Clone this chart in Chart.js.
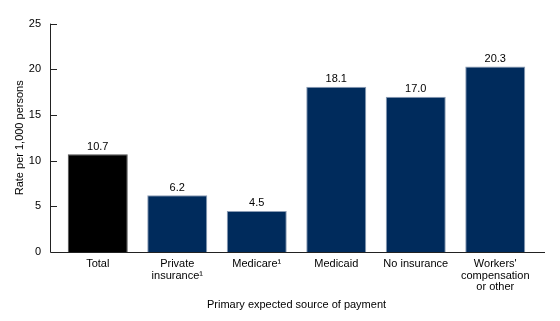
<!DOCTYPE html>
<html>
<head>
<meta charset="utf-8">
<script src="https://cdn.jsdelivr.net/npm/chart.js@4"></script>
<style>
  html, body { margin: 0; padding: 0; background: #fff; }
  #wrap { width: 560px; height: 321px; }
</style>
</head>
<body>
<div id="wrap"><canvas id="chart" width="560" height="321"></canvas></div>
<script>
const categories = [
    'Total',
    ['Private', 'insurance\u00B9'],
    'Medicare\u00B9',
    'Medicaid',
    'No insurance',
    ['Workers\'', 'compensation', 'or other']
];
const rates = [10.7, 6.2, 4.5, 18.1, 17.0, 20.3];
const barColors = ['#000000', '#002b5c', '#002b5c', '#002b5c', '#002b5c', '#002b5c'];
const borderColors = ['#4d4d4d', '#8c9db5', '#8c9db5', '#8c9db5', '#8c9db5', '#8c9db5'];
const yTicks = [0, 5, 10, 15, 20, 25];

const fontFamily = '"Liberation Sans", Arial, sans-serif';

// axis lines + inward tick marks, drawn from the scales
const axisLines = {
    id: 'axisLines',
    afterDraw(chart) {
        const ctx = chart.ctx;
        const y = chart.scales.y;
        const area = chart.chartArea;
        const x0 = area.left - 8;
        const base = y.getPixelForValue(0);
        ctx.save();
        ctx.strokeStyle = '#222';
        ctx.lineWidth = 1;
        ctx.beginPath();
        ctx.moveTo(x0 + 0.5, y.getPixelForValue(25));
        ctx.lineTo(x0 + 0.5, base + 0.5);
        ctx.lineTo(area.right + 10, base + 0.5);
        yTicks.forEach(v => {
            const py = Math.round(y.getPixelForValue(v)) + 0.5;
            if (v === 0) return;
            ctx.moveTo(x0, py);
            ctx.lineTo(x0 + 7, py);
        });
        ctx.stroke();
        ctx.restore();
    }
};

// value labels above bars
const valueLabels = {
    id: 'valueLabels',
    afterDatasetsDraw(chart) {
        const ctx = chart.ctx;
        const meta = chart.getDatasetMeta(0);
        ctx.save();
        ctx.font = '11px ' + fontFamily;
        ctx.fillStyle = '#000';
        ctx.textAlign = 'center';
        ctx.textBaseline = 'bottom';
        meta.data.forEach((bar, i) => {
            ctx.fillText(rates[i].toFixed(1), bar.x, bar.y - 2);
        });
        ctx.restore();
    }
};

new Chart(document.getElementById('chart').getContext('2d'), {
    type: 'bar',
    data: {
        labels: categories,
        datasets: [{
            data: rates,
            backgroundColor: barColors,
            borderColor: borderColors,
            borderWidth: 1,
            barPercentage: 0.755,
            categoryPercentage: 1
        }]
    },
    options: {
        responsive: false,
        animation: false,
        layout: { padding: { left: 9, right: 25, top: 19, bottom: 5 } },
        plugins: {
            legend: { display: false },
            tooltip: { enabled: false }
        },
        scales: {
            x: {
                grid: { display: false, drawTicks: false },
                border: { display: false },
                ticks: {
                    color: '#000',
                    padding: 6,
                    maxRotation: 0,
                    autoSkip: false,
                    font: { family: fontFamily, size: 11, lineHeight: 1.07 }
                },
                title: {
                    display: true,
                    text: 'Primary expected source of payment',
                    color: '#000',
                    font: { family: fontFamily, size: 11 }
                },
                afterFit(scale) { scale.height = 64; }
            },
            y: {
                min: 0,
                max: 25,
                grid: { display: false, drawTicks: false },
                border: { display: false },
                ticks: {
                    stepSize: 5,
                    color: '#000',
                    padding: 17,
                    font: { family: fontFamily, size: 11 }
                },
                title: {
                    display: true,
                    text: 'Rate per 1,000 persons',
                    color: '#000',
                    font: { family: fontFamily, size: 11 }
                },
                afterFit(scale) { scale.width = 49; }
            }
        }
    },
    plugins: [axisLines, valueLabels]
});
</script>
</body>
</html>
